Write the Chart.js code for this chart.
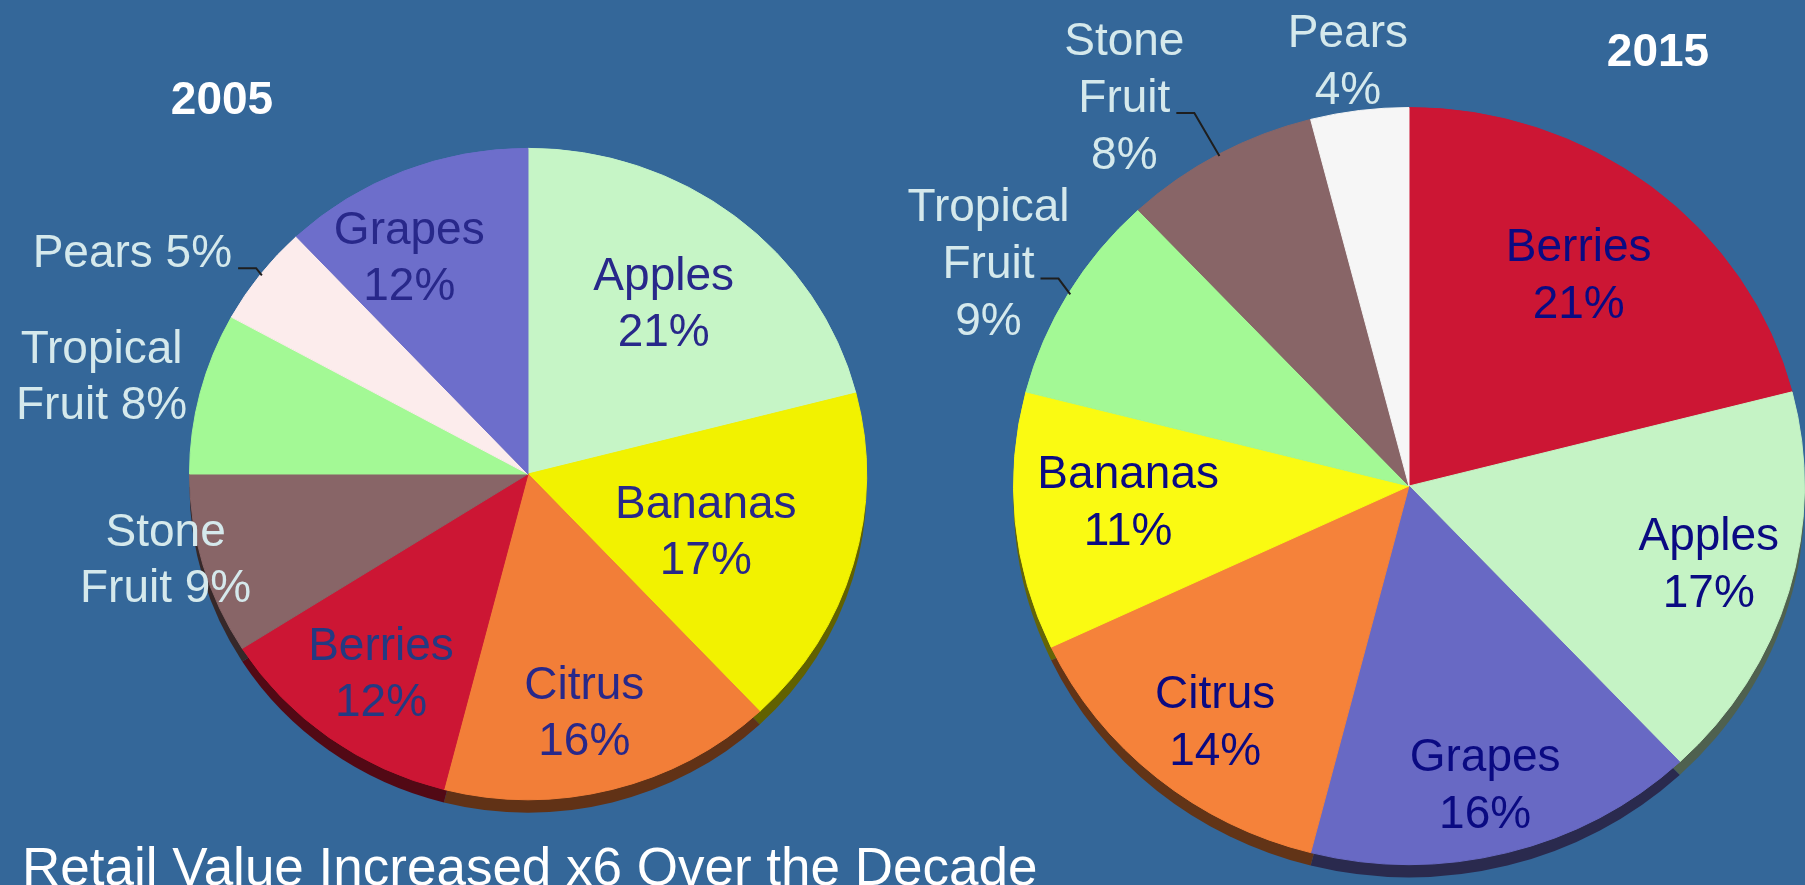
<!DOCTYPE html>
<html>
<head>
<meta charset="utf-8">
<title>Fruit retail value share, 2005 vs 2015</title>
<script src="https://cdn.jsdelivr.net/npm/chart.js@4/dist/chart.umd.min.js"></script>
<style>
  html, body { margin: 0; padding: 0; background: #346799; overflow: hidden; }
  #stage { position: relative; width: 1805px; height: 885px; }
  #stage canvas { position: absolute; left: 0; top: 0; }
</style>
</head>
<body>
<div id="stage">
  <canvas id="pie2005" width="1805" height="885"></canvas>
  <canvas id="pie2015" width="1805" height="885"></canvas>
</div>
<script>
// ---- data ----
const categories2005 = ['Apples', 'Bananas', 'Citrus', 'Berries', 'Stone Fruit', 'Tropical Fruit', 'Pears', 'Grapes'];
const share2005      = [21, 17, 16, 12, 9, 8, 5, 12];

const categories2015 = ['Berries', 'Apples', 'Grapes', 'Citrus', 'Bananas', 'Tropical Fruit', 'Stone Fruit', 'Pears'];
const share2015      = [21, 17, 16, 14, 11, 9, 8, 4];

const yearTitles = ['2005', '2015'];
const caption = 'Retail Value Increased x6 Over the Decade';

// ---- look ----
const FONT_FAMILY = '"Liberation Sans", Arial, Helvetica, sans-serif';
const fruitColours = {
  'Apples': '#C6F5C6', 'Bananas': '#F2F200', 'Citrus': '#F27E38', 'Berries': '#CC1634',
  'Stone Fruit': '#886567', 'Tropical Fruit': '#A3F995', 'Pears': '#FCECEC', 'Grapes': '#6D6ECB'
};
const fruitColours2015 = Object.assign({}, fruitColours, {
  'Apples': '#C5F3C5', 'Bananas': '#FAFA12', 'Citrus': '#F5823A', 'Grapes': '#6869C4', 'Pears': '#F6F6F6'
});

// label placement: distance from centre (fraction of radius), angular nudge (deg),
// how the text is broken into lines, whether it sits inside the slice, optional leader line
const labelLayout2005 = [
  { dist: 0.663, nudge: -0.6, mode: 'stack', inside: true },
  { dist: 0.552, nudge: 1.7,  mode: 'stack', inside: true },
  { dist: 0.745, nudge: 1.5,  mode: 'stack', inside: true },
  { dist: 0.746, nudge: -0.4, mode: 'stack', inside: true, colour: '#233A82' },
  { dist: 1.101, nudge: 2.7,  mode: 'wrap',  inside: false },
  { dist: 1.296, nudge: -0.8, mode: 'wrap',  inside: false },
  { dist: 1.355, nudge: -7.4, mode: 'inline', inside: false, leader: 0 },
  { dist: 0.757, nudge: -6,   mode: 'stack', inside: true }
];
const labelLayout2015 = [
  { dist: 0.708, nudge: -0.5, mode: 'stack', inside: true },
  { dist: 0.784, nudge: -1.4, mode: 'stack', inside: true },
  { dist: 0.807, nudge: 0.6,  mode: 'stack', inside: true },
  { dist: 0.789, nudge: -1.2, mode: 'stack', inside: true },
  { dist: 0.711, nudge: 2.5,  mode: 'stack', inside: true },
  { dist: 1.218, nudge: -1.4, mode: 'words', inside: false, leader: 1 },
  { dist: 1.258, nudge: -6.1, mode: 'words', inside: false, leader: 1 },
  { dist: 1.138, nudge: -0.6, mode: 'stack', inside: false }
];

function labelLines(name, value, mode) {
  const pct = value + '%';
  const words = name.split(' ');
  if (mode === 'inline') return [name + ' ' + pct];
  if (mode === 'wrap') return [words.slice(0, -1).join(' '), words[words.length - 1] + ' ' + pct];
  if (mode === 'words') return words.concat([pct]);
  return [name, pct];
}

function darken(hex, f) {
  const n = parseInt(hex.slice(1), 16);
  const r = Math.round(((n >> 16) & 255) * f);
  const g = Math.round(((n >> 8) & 255) * f);
  const b = Math.round((n & 255) * f);
  return 'rgb(' + r + ',' + g + ',' + b + ')';
}

// Tilted pie: squash the disc vertically, add a dark side wall below it,
// then write the slice labels, the year and the caption.
const tiltedPie = {
  id: 'tiltedPie',
  beforeDatasetsDraw(chart, args, opts) {
    const ctx = chart.ctx;
    const meta = chart.getDatasetMeta(0);
    const first = meta.data[0];
    const cx = first.x, cy = first.y;
    const colours = chart.data.datasets[0].backgroundColor;
    ctx.save();
    ctx.translate(cx, cy);
    ctx.scale(1, opts.tilt);
    ctx.translate(-cx, -cy);
    const drop = opts.depth / opts.tilt;
    meta.data.forEach((arc, i) => {
      const p = arc.getProps(['x', 'y', 'startAngle', 'endAngle', 'outerRadius']);
      ctx.beginPath();
      ctx.moveTo(p.x, p.y + drop);
      ctx.arc(p.x, p.y + drop, p.outerRadius, p.startAngle, p.endAngle);
      ctx.closePath();
      ctx.fillStyle = darken(colours[i], 0.4);
      ctx.fill();
    });
  },
  afterDatasetsDraw(chart) {
    chart.ctx.restore();
  },
  afterDraw(chart, args, opts) {
    const ctx = chart.ctx;
    const meta = chart.getDatasetMeta(0);
    const ds = chart.data.datasets[0];
    const labels = chart.data.labels;
    ctx.save();
    ctx.textAlign = 'center';
    ctx.textBaseline = 'alphabetic';
    ctx.font = opts.labelSize + 'px ' + FONT_FAMILY;
    const capH = 0.716 * opts.labelSize;
    meta.data.forEach((arc, i) => {
      const p = arc.getProps(['x', 'y', 'startAngle', 'endAngle', 'outerRadius']);
      const lay = opts.layout[i];
      const mid = (p.startAngle + p.endAngle) / 2;
      const a = mid + lay.nudge * Math.PI / 180;
      const bx = p.x + Math.cos(a) * p.outerRadius * lay.dist;
      const by = p.y + Math.sin(a) * p.outerRadius * lay.dist * opts.tilt;
      const lines = labelLines(labels[i], ds.data[i], lay.mode);
      const L = opts.lineHeight;
      const firstBase = by - (lines.length - 1) * L / 2 + capH / 2;
      ctx.fillStyle = lay.colour || (lay.inside ? opts.insideColour : opts.outsideColour);
      lines.forEach((t, k) => ctx.fillText(t, bx, firstBase + k * L));
      if (lay.leader !== undefined) {
        const t = lines[lay.leader];
        const w = ctx.measureText(t).width;
        const sx = bx + w / 2 + 6;
        const sy = firstBase + lay.leader * L + 1;
        const ex = p.x + Math.cos(mid) * p.outerRadius * 0.995;
        const ey = p.y + Math.sin(mid) * p.outerRadius * 0.995 * opts.tilt;
        ctx.beginPath();
        ctx.moveTo(sx, sy);
        ctx.lineTo(sx + 18, sy);
        ctx.lineTo(ex, ey);
        ctx.strokeStyle = '#1e1e1e';
        ctx.lineWidth = 2;
        ctx.stroke();
      }
    });
    // year heading
    ctx.fillStyle = '#ffffff';
    ctx.font = 'bold 46px ' + FONT_FAMILY;
    ctx.fillText(opts.title, opts.titleX, opts.titleY);
    // caption
    if (opts.caption) {
      ctx.textAlign = 'left';
      ctx.font = '53px ' + FONT_FAMILY;
      ctx.fillText(opts.caption, 22, 885);
    }
    ctx.restore();
  }
};

function makePie(canvasId, cats, values, colourMap, padding, pluginOpts) {
  const colours = cats.map(c => colourMap[c]);
  return new Chart(document.getElementById(canvasId), {
    type: 'pie',
    data: {
      labels: cats,
      datasets: [{
        data: values,
        backgroundColor: colours,
        borderColor: colours,
        borderWidth: 1
      }]
    },
    options: {
      responsive: false,
      animation: false,
      events: [],
      layout: { padding: padding },
      plugins: {
        legend: { display: false },
        tooltip: { enabled: false },
        title: { display: false },
        tiltedPie: pluginOpts
      }
    },
    plugins: [tiltedPie]
  });
}

makePie('pie2005', categories2005, share2005, fruitColours,
  { left: 189, right: 938, top: 135, bottom: 72 },
  {
    tilt: 0.962, depth: 13, layout: labelLayout2005, labelSize: 46, lineHeight: 56,
    insideColour: '#28288A', outsideColour: '#D5E9EC',
    title: yearTitles[0], titleX: 222, titleY: 114, caption: caption
  });

makePie('pie2015', categories2015, share2015, fruitColours2015,
  { left: 1013, right: 0, top: 90, bottom: 3 },
  {
    tilt: 0.957, depth: 13, layout: labelLayout2015, labelSize: 46, lineHeight: 57,
    insideColour: '#0A0A82', outsideColour: '#D5E9EC',
    title: yearTitles[1], titleX: 1658, titleY: 66, caption: null
  });
</script>
</body>
</html>
